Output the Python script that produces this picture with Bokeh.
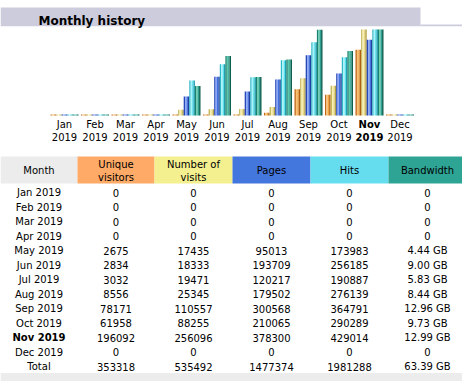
import numpy as np
from bokeh.plotting import figure
from bokeh.models import Range1d
from bokeh.embed import file_html
from bokeh.resources import INLINE
from bokeh.core.properties import value

# ---------------- data ----------------
months = ["Jan", "Feb", "Mar", "Apr", "May", "Jun", "Jul", "Aug", "Sep", "Oct", "Nov", "Dec"]
year = "2019"
current_month = "Nov"
unique_visitors = [0, 0, 0, 0, 2675, 2834, 3032, 8556, 78171, 61958, 196092, 0]
visits = [0, 0, 0, 0, 17435, 18333, 19471, 25345, 110557, 88255, 256096, 0]
pages = [0, 0, 0, 0, 95013, 193709, 120217, 179502, 300568, 210065, 378300, 0]
hits = [0, 0, 0, 0, 173983, 256185, 190887, 276139, 364791, 290289, 429014, 0]
bandwidth_gb = [0, 0, 0, 0, 4.44, 9.00, 5.83, 8.44, 12.96, 9.73, 12.99, 0]
header_lines = [["Month"], ["Unique", "visitors"], ["Number of", "visits"],
                ["Pages"], ["Hits"], ["Bandwidth"]]
title = "Monthly history"

# ---------------- layout / style ----------------
FONT = value("DejaVu Sans")
TITLE_BG = "#CCCCDD"
GRAY = "#ECECEC"
COL_BG = [GRAY, "#FFAA66", "#F4F090", "#4477DD", "#66DDEE", "#2EA495"]
STRIPES = [
    ["#C06818", "#F8C070", "#F0A040", "#B06010"],
    ["#C8B860", "#F8F0B0", "#E8D888", "#B0A048"],
    ["#2848B8", "#88A8F8", "#4470E0", "#2040A0"],
    ["#30B8C8", "#A8F4FA", "#60E0EE", "#20A0B0"],
    ["#1E8070", "#58C8A8", "#2EA090", "#0E6050"],
]
GROUP_X0, GROUP_PITCH, BAR_W = 50.0, 30.5, 5.6
BASE_Y, BAR_H = 115.0, 86.0
ROW0_Y, ROW_PITCH = 192.0, 14.5
COL_EDGES = [0, 77, 154, 232, 310, 388, 466]
X0, X1, Y0, Y1 = 0, 462, 0, 381

p = figure(width=X1 - X0, height=Y1 - Y0, x_range=Range1d(X0, X1), y_range=Range1d(Y1, Y0),
           output_backend="svg", toolbar_location=None,
           x_axis_location=None, y_axis_location=None,
           min_border=0, min_border_left=0, min_border_right=0,
           min_border_top=0, min_border_bottom=0,
           outline_line_color=None, background_fill_color="white",
           border_fill_color="white")
p.grid.grid_line_color = None

# extra ranges: months, value scales, table rows
p.extra_x_ranges = {"mon": Range1d((X0 - GROUP_X0) / GROUP_PITCH, (X1 - GROUP_X0) / GROUP_PITCH)}
uv_max = max(max(unique_visitors), max(visits))
ph_max = max(max(pages), max(hits))
bw_max = max(bandwidth_gb)
def vrange(m):
    return Range1d((BASE_Y - Y1) / BAR_H * m, (BASE_Y - Y0) / BAR_H * m)
p.extra_y_ranges = {
    "uv": vrange(uv_max), "ph": vrange(ph_max), "bw": vrange(bw_max),
    "row": Range1d((Y1 - ROW0_Y) / ROW_PITCH, (Y0 - ROW0_Y) / ROW_PITCH),
}

# ---------------- title ----------------
p.quad(left=0, right=420, top=7, bottom=25.7, fill_color=TITLE_BG, line_color=None)
p.quad(left=420, right=470, top=24, bottom=25.7, fill_color=TITLE_BG, line_color=None)
p.text(x=[38], y=[20], text=[title], text_font=FONT, text_font_size="12px",
       text_font_style="bold", text_color="#000000", text_baseline="alphabetic")

# ---------------- bars ----------------
idx = np.arange(len(months))
series = [(unique_visitors, "uv", uv_max), (visits, "uv", uv_max),
          (pages, "ph", ph_max), (hits, "ph", ph_max),
          (bandwidth_gb, "bw", bw_max)]
sw = BAR_W / 4 / GROUP_PITCH
for k, (vals, rname, m) in enumerate(series):
    top = np.maximum(np.array(vals, dtype=float), m / BAR_H)
    for s in range(4):
        xc = idx + (k * BAR_W + (s + 0.5) * BAR_W / 4) / GROUP_PITCH
        p.vbar(x=xc, width=sw * 1.02, bottom=0, top=top, fill_color=STRIPES[k][s],
               line_color=None, x_range_name="mon", y_range_name=rname)

# month labels under chart
gc = idx + 14.0 / GROUP_PITCH
is_cur = np.array([mo == current_month for mo in months])
for mask, style in ((~is_cur, "normal"), (is_cur, "bold")):
    xs = gc[mask]
    p.text(x=xs, y=[124] * len(xs), text=[mo for mo, c in zip(months, mask) if c],
           x_range_name="mon", text_font=FONT, text_font_size="10px", text_font_style=style,
           text_align="center", text_baseline="middle", text_color="#000000")
    p.text(x=xs, y=[136.5] * len(xs), text=[year] * len(xs),
           x_range_name="mon", text_font=FONT, text_font_size="10px", text_font_style=style,
           text_align="center", text_baseline="middle", text_color="#000000")

# ---------------- table ----------------
p.quad(left=COL_EDGES[:-1], right=COL_EDGES[1:], top=[156] * 6, bottom=[183] * 6,
       fill_color=COL_BG, line_color=None)
centers = [(a + b) / 2 for a, b in zip(COL_EDGES[:-1], COL_EDGES[1:])]
for cx, lines in zip(centers, header_lines):
    ys = [170] if len(lines) == 1 else [163.5, 176.5]
    p.text(x=[cx] * len(lines), y=ys, text=lines, text_font=FONT, text_font_size="10px",
           text_align="center", text_baseline="middle", text_color="#000000")

def fmt_bw(v):
    return "0" if v == 0 else f"{v:.2f} GB"

n = len(months)
rows = np.arange(n)
col_texts = [
    [str(v) for v in unique_visitors], [str(v) for v in visits],
    [str(v) for v in pages], [str(v) for v in hits], [fmt_bw(v) for v in bandwidth_gb],
]
mlabels = [f"{mo} {year}" for mo in months]
for mask, style in ((~is_cur, "normal"), (is_cur, "bold")):
    p.text(x=[centers[0]] * int(mask.sum()), y=rows[mask],
           text=[t for t, c in zip(mlabels, mask) if c], y_range_name="row",
           text_font=FONT, text_font_size="10px", text_font_style=style,
           text_align="center", text_baseline="middle", text_color="#000000")
for cx, texts in zip(centers[1:], col_texts):
    p.text(x=[cx] * n, y=rows, text=texts, y_range_name="row",
           text_font=FONT, text_font_size="10px",
           text_align="center", text_baseline="middle", text_color="#000000")

# total row
p.quad(left=0, right=470, top=n + 0.5 - 0.05, bottom=n + 1.45, fill_color=GRAY,
       line_color=None, y_range_name="row")
totals = ["Total", str(sum(unique_visitors)), str(sum(visits)), str(sum(pages)),
          str(sum(hits)), fmt_bw(round(sum(bandwidth_gb), 2))]
p.text(x=centers, y=[n] * 6, text=totals, y_range_name="row", text_font=FONT,
       text_font_size="10px", text_align="center", text_baseline="middle",
       text_color="#000000")

open("out.html", "w").write(file_html(p, INLINE))
